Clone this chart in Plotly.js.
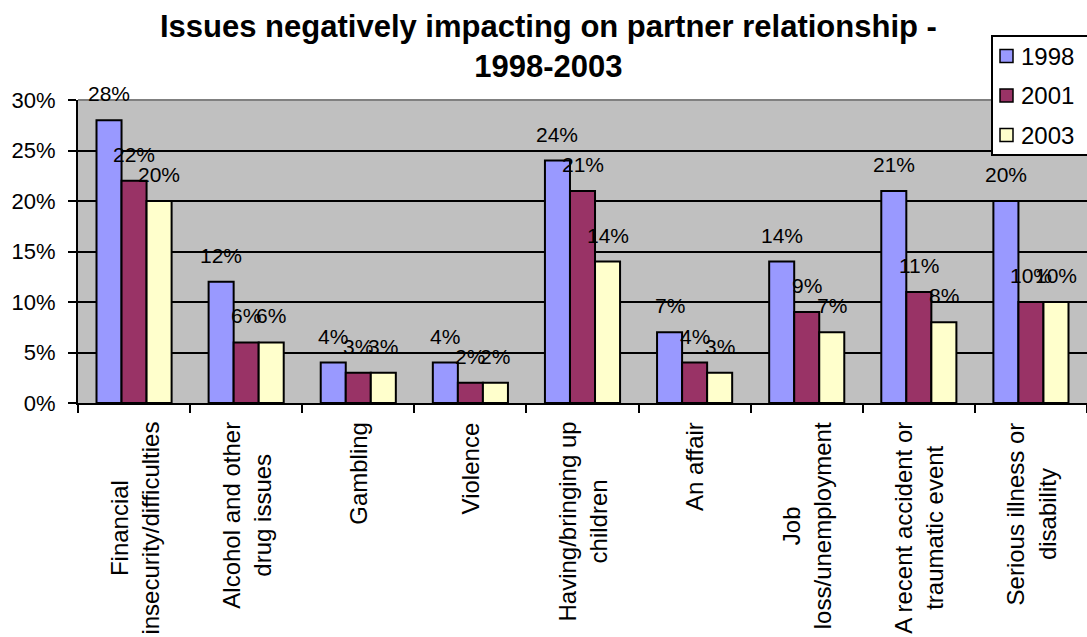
<!DOCTYPE html>
<html>
<head>
<meta charset="utf-8">
<script src="https://cdn.plot.ly/plotly-3.0.1.min.js"></script>
<style>html,body{margin:0;padding:0;background:#fff;}#chart{width:1087px;height:637px;}</style>
</head>
<body>
<div id="chart"></div>
<script>
// ---- data ----
const categories = [
  "Financial<br>insecurity/difficulties",
  "Alcohol and other<br>drug issues",
  "Gambling",
  "Violence",
  "Having/bringing up<br>children",
  "An affair",
  "Job<br>loss/unemployment",
  "A recent accident or<br>traumatic event",
  "Serious illness or<br>disability"
];
const seriesNames = ["1998", "2001", "2003"];
const values1998 = [0.28, 0.12, 0.04, 0.04, 0.24, 0.07, 0.14, 0.21, 0.20];
const values2001 = [0.22, 0.06, 0.03, 0.02, 0.21, 0.04, 0.09, 0.11, 0.10];
const values2003 = [0.20, 0.06, 0.03, 0.02, 0.14, 0.03, 0.07, 0.08, 0.10];
const yTickVals = [0, 0.05, 0.10, 0.15, 0.20, 0.25, 0.30];
const yTickText = ["0%", "5%", "10%", "15%", "20%", "25%", "30%"];
const titleText = "Issues negatively impacting on partner relationship -<br>1998-2003";

// ---- style ----
const FONT = "Liberation Sans, Arial, sans-serif";
const colors = ["#9999FF", "#993366", "#FFFFCC"];
const allValues = [values1998, values2001, values2003];
const idx = categories.map((_, i) => i);

const W = 1087, H = 637;
const margin = {l: 78, r: 0, t: 100, b: 234};
const plotW = W - margin.l - margin.r;
const plotH = H - margin.t - margin.b;
const bargap = 0.33;
const barPx = plotW / categories.length * (1 - bargap) / 3;

const traces = allValues.map((vals, s) => ({
  type: "bar",
  name: seriesNames[s],
  x: idx,
  y: vals,
  marker: {color: colors[s], line: {color: "#000", width: 2}},
  showlegend: false,
  hoverinfo: "skip"
}));

const annotations = [];
// title
annotations.push({
  x: (548 - margin.l) / plotW, y: 1, xref: "paper", yref: "paper",
  text: "<b>" + titleText.replace("<br>", "</b><br><b>") + "</b>",
  showarrow: false, xanchor: "center", yanchor: "top", align: "center",
  yshift: margin.t - 7,
  font: {family: FONT, size: 31, color: "#000"}
});
// data labels
allValues.forEach((vals, s) => {
  vals.forEach((v, i) => {
    annotations.push({
      x: i, y: v, xref: "x", yref: "y",
      text: Math.round(v * 100) + "%",
      showarrow: false, xanchor: "center", yanchor: "bottom",
      xshift: (s - 1) * barPx, yshift: 13,
      font: {family: FONT, size: 21, color: "#000"}
    });
  });
});
// category labels (rotated)
categories.forEach((c, i) => {
  annotations.push({
    x: i, y: 0, xref: "x", yref: "paper",
    text: c, showarrow: false, textangle: -90,
    xanchor: "center", yanchor: "top", yshift: -17, align: "center",
    font: {family: FONT, size: 24, color: "#000"}
  });
});
// legend (custom, Excel-style)
const legX = 992, legY0 = 36, legY1 = 155;
const shapes = [
  {type: "line", xref: "paper", yref: "paper", x0: 0, x1: 1, y0: 1, y1: 1,
   line: {color: "#808080", width: 2}, layer: "above"},
  {type: "rect", xref: "paper", yref: "paper",
   x0: (legX - margin.l) / plotW, x1: (W + 5 - margin.l) / plotW,
   y0: 1 + (margin.t - legY1) / plotH,
   y1: 1 + (margin.t - legY0) / plotH,
   fillcolor: "#fff", line: {color: "#000", width: 2}, layer: "above"}
];
seriesNames.forEach((n, s) => {
  const cy = 56 + s * 39.5;
  const py = 1 + (margin.t - cy) / plotH;
  shapes.push({type: "rect", xref: "paper", yref: "paper",
    x0: (1000 - margin.l) / plotW, x1: (1013 - margin.l) / plotW,
    y0: py - 6.5 / plotH, y1: py + 6.5 / plotH,
    fillcolor: colors[s], line: {color: "#000", width: 1.5}, layer: "above"});
  annotations.push({x: (1019 - margin.l) / plotW, y: py, xref: "paper", yref: "paper",
    text: n, showarrow: false, xanchor: "left", yanchor: "middle",
    font: {family: FONT, size: 24, color: "#000"}});
});

const layout = {
  width: W, height: H,
  margin: margin,
  paper_bgcolor: "#fff",
  plot_bgcolor: "#C0C0C0",
  barmode: "group",
  bargap: bargap,
  bargroupgap: 0,
  showlegend: false,
  xaxis: {
    type: "linear",
    range: [-0.5, categories.length - 0.5],
    showticklabels: false,
    tickvals: idx.map(i => i - 0.5).concat([categories.length - 0.5]),
    ticks: "outside", ticklen: 8, tickwidth: 2, tickcolor: "#000",
    showgrid: false, zeroline: false,
    showline: true, linecolor: "#000", linewidth: 2,
    fixedrange: true
  },
  yaxis: {
    range: [0, 0.30],
    tickvals: yTickVals, ticktext: yTickText,
    tickfont: {family: FONT, size: 22, color: "#000"},
    ticks: "outside", ticklen: 8, tickwidth: 2, tickcolor: "#000",
    ticklabelstandoff: 8,
    showgrid: true, gridcolor: "#000", gridwidth: 2,
    zeroline: false,
    showline: true, linecolor: "#000", linewidth: 2,
    fixedrange: true
  },
  annotations: annotations,
  shapes: shapes
};

Plotly.newPlot("chart", traces, layout, {displayModeBar: false, staticPlot: true});
</script>
</body>
</html>
